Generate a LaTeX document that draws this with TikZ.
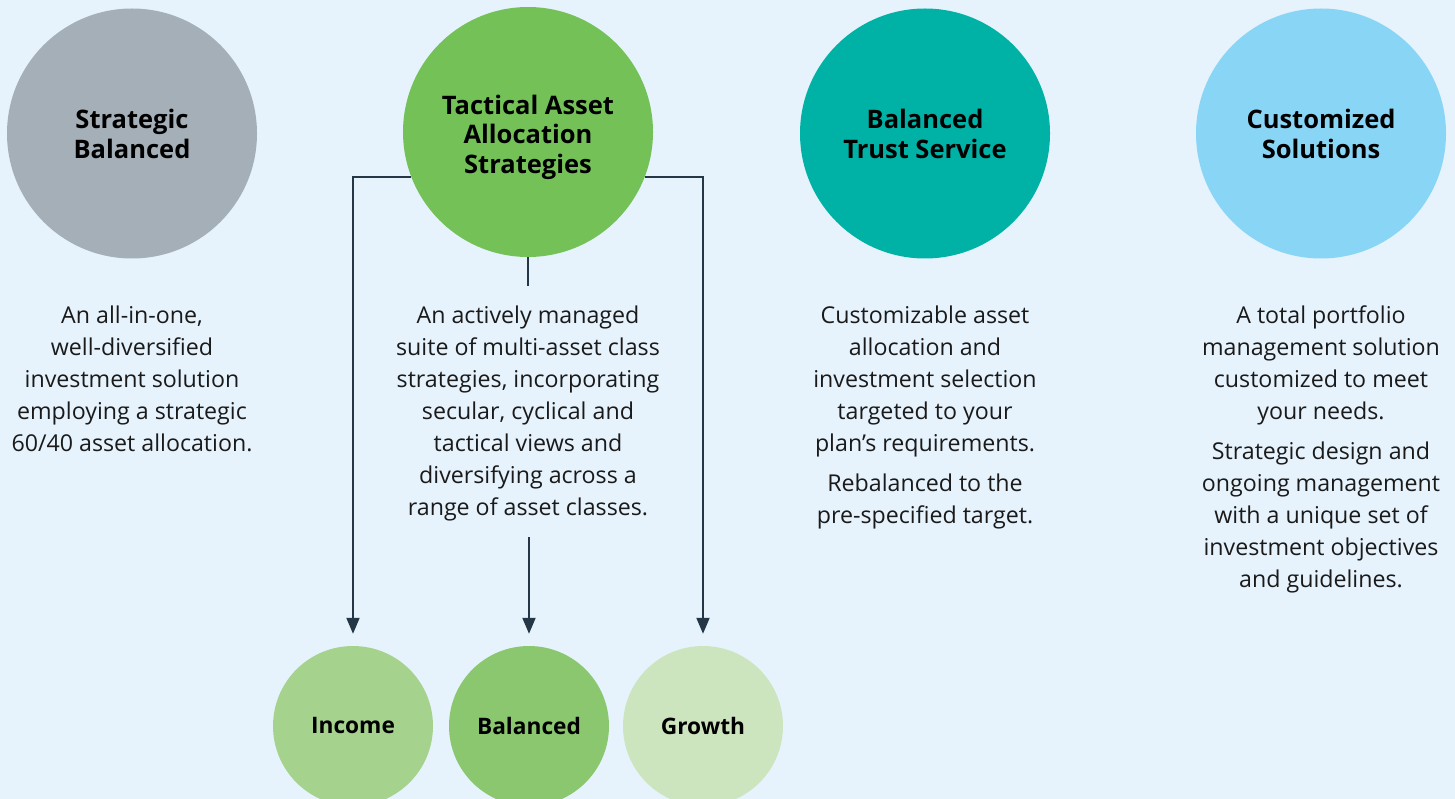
\documentclass[tikz,border=0pt]{standalone}
\usepackage{fontspec}
\setmainfont{Open Sans}
\usetikzlibrary{arrows.meta,backgrounds}
\definecolor{bgc}{HTML}{E6F3FC}
\definecolor{cgray}{HTML}{A4AFB8}
\definecolor{cgreen}{HTML}{74C158}
\definecolor{cteal}{HTML}{00B2A5}
\definecolor{cblue}{HTML}{89D5F6}
\definecolor{cinc}{HTML}{A5D38E}
\definecolor{cbal}{HTML}{8AC76E}
\definecolor{cgro}{HTML}{CCE5BF}
\definecolor{linec}{HTML}{253746}
\definecolor{txtc}{HTML}{1A1A1A}
\begin{document}
\begin{tikzpicture}[x=1pt,y=-1pt,
  big/.style={circle, minimum size=250pt, inner sep=0pt, align=center,
    font=\fontsize{25.5}{30}\selectfont\bfseries, text=black},
  titletext/.style={align=center, inner sep=0pt,
    font=\fontsize{25.5}{29.5}\selectfont\bfseries, text=black},
  small/.style={circle, minimum size=160pt, inner sep=0pt,
    font=\fontsize{22.7}{26}\selectfont\bfseries, text=black},
  desc/.style={anchor=north, align=center, inner sep=0pt,
    font=\fontsize{23.2}{32}\selectfont, text=txtc},
  conn/.style={draw=linec, line width=2pt},
  arr/.style={conn, -{Triangle[length=16pt,width=13pt]}, shorten >=12pt}]
\useasboundingbox (0,0) rectangle (1455,799);
\clip (0,0) rectangle (1455,799);

\node[big, fill=cgray]  (sb)  at (132,133.5) {Strategic\\Balanced};
\node[big, fill=cgreen] (tas) at (528,132) {};
\node[titletext] (tast) at (528,137) {Tactical Asset\\Allocation\\Strategies};
\node[big, fill=cteal]  (bts) at (925,133.5) {Balanced\\Trust Service};
\node[big, fill=cblue]  (cs)  at (1321,133.5) {Customized\\Solutions};

\node[small, fill=cinc] (inc) at (353,726) {Income};
\node[small, fill=cbal] (bal) at (529,726) {Balanced};
\node[small, fill=cgro] (gro) at (703,726) {Growth};

\node[desc] (d1) at (132,305.5) {An all-in-one,\\well-diversified\\investment solution\\employing a strategic\\60/40 asset allocation.};
\node[desc] (d2) at (528,305.5) {An actively managed\\suite of multi-asset class\\strategies, incorporating\\secular, cyclical and\\tactical views and\\diversifying across a\\range of asset classes.};
\node[desc] (d3) at (925,305.5) {Customizable asset\\allocation and\\investment selection\\targeted to your\\plan’s requirements.\\[8pt]Rebalanced to the\\pre-specified target.};
\node[desc] (d4) at (1321,305.5) {A total portfolio\\management solution\\customized to meet\\your needs.\\[8pt]Strategic design and\\ongoing management\\with a unique set of\\investment objectives\\and guidelines.};

\coordinate (stubend) at (528,286);
\coordinate (arrstart) at (529,537);

\begin{scope}[on background layer]
  \fill[bgc] (0,0) rectangle (1455,799);
  \draw[arr] (tas.201) -| (inc.north);
  \draw[arr] (tas.-21) -| (gro.north);
  \draw[conn] (tas.south) -- (stubend);
  \draw[arr] (arrstart) -- (bal.north);
\end{scope}
\end{tikzpicture}
\end{document}
